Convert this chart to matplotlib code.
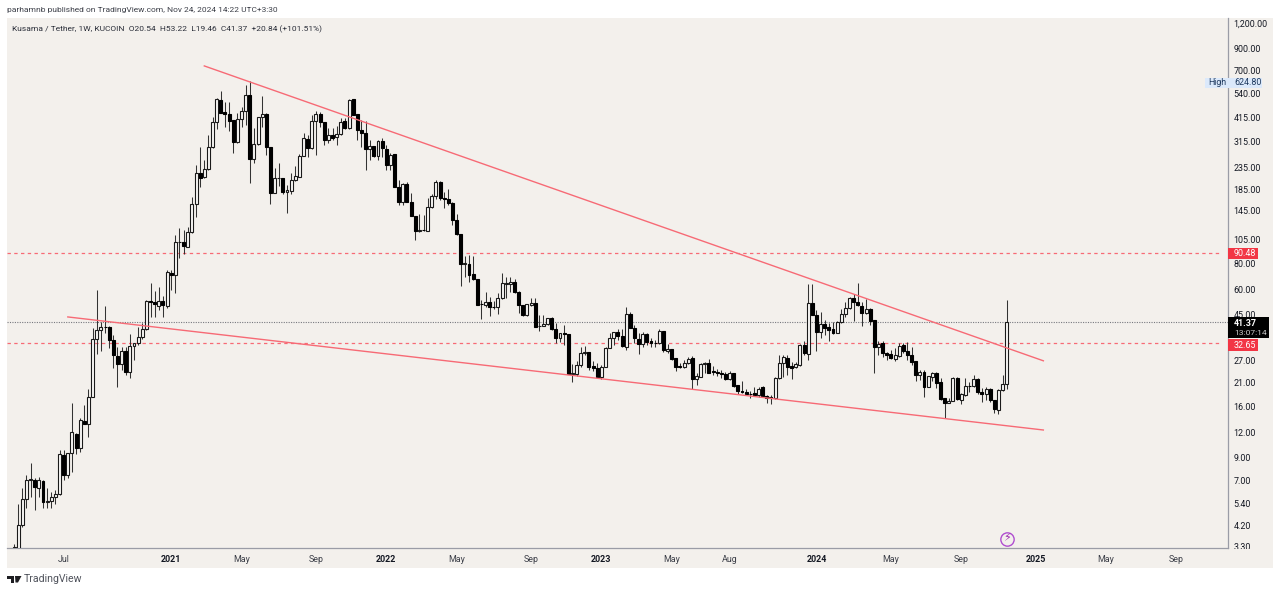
import matplotlib
matplotlib.use("Agg")
import matplotlib.pyplot as plt
import matplotlib.dates as mdates
import numpy as np
import pandas as pd
from matplotlib.lines import Line2D
from matplotlib.patches import Rectangle, Polygon

# weekly candles, first one is the week of 2020-04-13
first_week = "2020-04-13"

opens = [3.1, 3.05, 4.2, 5.67, 7.02, 7.02, 6.42, 6.94, 5.49, 5.52, 5.8, 6.0, 9.3, 7.43, 9.51, 11.8, 10.1, 13.6, 13.2, 17.9,
         34.3, 38, 39.3, 39.2, 33.9, 28.3, 25.9, 30, 23.7, 31.7, 32.8, 35.1, 38.4, 52.6, 52, 49.7, 52.6, 49.7, 72.1, 70.5,
         102, 102, 96, 114.5, 157, 222, 212, 232, 297, 394, 505, 441, 431, 403, 315, 407, 446, 534, 260, 308,
         417, 431, 297, 177, 210, 210, 179, 181, 205, 212, 269, 325, 294, 398, 431, 394, 322, 340, 333, 344,
         398, 368, 510, 431, 360, 348, 291, 301, 269, 318, 291, 243, 275, 189, 160, 196, 160, 137, 116, 117,
         116, 151, 171, 200, 167, 166, 158, 131, 112, 79.7, 79.7, 71.3, 67.4, 50.8, 50.3, 52, 49.2, 48.9, 54.4, 63.7,
         63.7, 65.1, 58.2, 50.3, 44.9, 50.3, 51.4, 39.7, 39.8, 40.6, 43.4, 38.4, 34.7, 36.7, 36.3, 23.1, 23.2, 25.6, 29.3, 29.6,
         25.3, 24.8, 22.4, 25, 31, 34.7, 37.1, 35.5, 31.4, 45.4, 38.8, 34.3, 32.4, 36.3, 33.5, 32.8, 32.6, 37.6, 30, 30.7,
         27.7, 25.3, 25, 26.2, 27.7, 21.9, 22.4, 25.9, 26.2, 23.9, 23.7, 23.4, 23.1, 21.9, 23.4, 20.4, 19.1, 18.9, 18.5, 18.7,
         18.3, 20, 18.1, 17.9, 17.7, 22.1, 26.2, 27.7, 25.3, 25, 25.6, 32.1, 29, 51.4, 44.9, 37.1, 40.6, 39.3, 38.4, 36.7,
         41.5, 45.4, 48.6, 54.4, 52, 49.7, 45.9, 48.1, 42.5, 31.4, 32.8, 29.3, 29, 27.4, 28.3, 32.1, 30, 28.7, 26.8, 22.9,
         23.7, 20, 22.4, 23.4, 21.1, 17.7, 16.7, 17.1, 22.1, 17.3, 18.3, 20.2, 20.1, 21.9, 18.9, 18.5, 19.5, 17.3, 15.4, 19.3,
         20.54]
highs = [3.4, 5.36, 6.42, 7.43, 8.5, 7.18, 7.26, 7.02, 6.42, 6.13, 6.27, 9.84, 9.84, 9.51, 16.7, 11.9, 14.1, 16.3, 19.5, 38.8,
         59.5, 41.5, 49.7, 39.5, 35.9, 31.4, 31.4, 31.4, 36.3, 32.9, 39.3, 41.1, 53.2, 64.4, 58.8, 61.5, 55.6, 74.6, 74.6, 110,
         119.6, 117, 121, 169, 243, 297, 257, 340, 417, 516, 558, 493, 493, 403, 436, 466, 597, 624.8, 368, 417,
         528, 436, 297, 235, 248, 210, 194, 222, 240, 275, 348, 340, 426, 446, 441, 394, 368, 368, 377, 412,
         412, 510, 510, 431, 403, 398, 322, 301, 322, 329, 304, 278, 275, 205, 198, 200, 177, 137, 140, 138,
         167, 175, 205, 203, 179, 185, 160, 140, 112, 87.2, 88.2, 87.2, 67.4, 53.2, 58.2, 55, 52.6, 57.5, 72.1, 68.9,
         68.9, 67.4, 58.8, 50.3, 50.8, 54.4, 54.4, 44.9, 44.9, 43.4, 43.9, 41.1, 36.7, 40.2, 36.3, 25.9, 26.8, 31.4, 31.7, 29.6,
         26.8, 26.2, 25.6, 31.4, 36.7, 37.1, 38.4, 38.4, 49.2, 46.5, 40.2, 36.7, 37.1, 36.7, 34.7, 33.9, 38.4, 37.6, 32.4, 30.7,
         27.7, 26.2, 27.1, 28, 28.3, 23.4, 26.2, 26.5, 27.4, 25.3, 24.5, 24.2, 23.7, 23.9, 23.4, 20.4, 21.4, 19.5, 19.1, 20,
         20, 20.2, 18.3, 18.3, 22.4, 28.7, 28.7, 28.7, 26.5, 26.5, 32.4, 33.5, 63.7, 63.7, 47.5, 46.5, 42.5, 41.1, 41.5, 42,
         48.1, 52, 55, 56.9, 64.4, 52, 53.8, 48.6, 42.5, 33.5, 33.5, 29.6, 30.3, 31, 32.8, 32.8, 33.2, 31.4, 26.8, 24.2,
         24.2, 22.6, 23.7, 23.7, 22.1, 17.7, 17.7, 22.4, 22.4, 18.7, 22.1, 21.1, 22.9, 22.1, 19.8, 20, 19.8, 17.3, 19.5, 22.9,
         53.22]
lows = [3.0, 3.0, 4.15, 5.13, 5.8, 5.01, 5.8, 5.13, 5.13, 5.13, 5.36, 5.93, 7.02, 7.18, 7.68, 9.41, 9.62, 13.1, 11.4, 17.8,
        29, 30, 36.7, 31, 24.8, 20, 24.2, 22.9, 22.1, 27.1, 32.1, 34.3, 38, 43.9, 43.9, 47.5, 43.9, 48.6, 59.5, 57.5,
        85.3, 89.3, 96, 113, 135, 189, 210, 230, 294, 364, 436, 372, 356, 278, 311, 372, 381, 198, 248, 304,
        372, 272, 157, 177, 192, 175, 142, 175, 203, 212, 269, 266, 291, 272, 372, 304, 311, 322, 304, 340,
        364, 364, 426, 322, 297, 230, 257, 266, 257, 266, 230, 230, 189, 155, 155, 160, 137, 104.5, 114.5, 116,
        116, 150, 165.6, 164, 150, 155, 124, 111, 62.2, 68.9, 65.1, 66.6, 50.3, 42.9, 49.2, 44.4, 48.1, 45.4, 53.8, 54.4,
        58.2, 57.5, 46, 44.4, 44.4, 49.7, 39.3, 37.6, 40.2, 40.2, 38, 32.8, 33.2, 32.1, 23.1, 21.1, 22.6, 25, 28.7, 24.2,
        23.9, 22.4, 21.9, 25, 31, 32.1, 33.9, 31.4, 30.3, 38.8, 32.8, 29, 31.4, 32.1, 31.4, 31.4, 32.4, 29.6, 29.3, 27.1,
        23.9, 24.8, 24.8, 25.9, 19.5, 20.4, 22.4, 23.4, 23.4, 22.9, 22.6, 22.1, 21.6, 21.6, 20, 18.5, 18.7, 18.3, 17.7, 18.1,
        17.9, 17.9, 16.7, 16.5, 17.5, 21.9, 22.4, 22.9, 21.9, 24.8, 25.3, 28.7, 27.1, 44.9, 30, 34.7, 35.9, 33.5, 36.3, 36.7,
        41.1, 43.9, 48.1, 42, 49.7, 39.7, 45.4, 40.2, 23.4, 28.7, 28, 27.1, 27.4, 26.8, 28, 29.3, 27.1, 25.6, 21.4, 21.6,
        17.9, 20, 21.4, 19.8, 17.3, 14.1, 16.7, 17.1, 17.3, 16.5, 18.1, 18.9, 20, 18.5, 16.9, 17.3, 16.9, 14.9, 14.8, 19.1,
        19.46]
closes = [3.3, 4.2, 5.67, 7.02, 7.1, 6.49, 7.02, 5.49, 5.52, 5.8, 6.0, 9.41, 7.43, 9.51, 12.05, 10.1, 13.8, 13.2, 17.9, 34.3,
          38, 39.3, 39.2, 33.9, 28.7, 25.9, 30, 23.7, 31.7, 32.8, 35.1, 38.4, 52.6, 52, 50.8, 52.6, 50.3, 72.9, 70.5, 102,
          102, 97, 114.5, 157, 222, 210, 232, 297, 394, 510, 436, 431, 398, 315, 407, 446, 534, 260, 308, 417,
          431, 297, 177, 210, 210, 179, 183, 205, 214, 269, 329, 294, 398, 431, 394, 322, 340, 329, 344, 394,
          368, 505, 426, 360, 348, 291, 301, 269, 318, 294, 243, 272, 189, 160, 196, 160, 137, 116, 117, 116.5,
          151, 171, 200, 167, 166, 158, 131, 112, 79.7, 80.2, 70.5, 67.4, 50.3, 50.5, 52, 49.2, 48.9, 54.4, 64.4, 64.4,
          65.1, 58.2, 50.3, 44.9, 50.8, 51.4, 39.3, 39.8, 40.6, 43.4, 38.4, 34.7, 36.7, 36.3, 23.1, 23.4, 25.6, 29.3, 29.6, 25,
          24.8, 22.4, 25, 31, 34.7, 37.1, 35.5, 31.7, 45.4, 38.8, 34.7, 32.4, 36.3, 33.2, 32.8, 32.6, 37.6, 30.3, 30.7, 27.4,
          25, 25, 26.2, 27.4, 21.9, 22.6, 25.9, 26.2, 23.4, 23.7, 23.4, 23.1, 21.9, 23.4, 20.2, 19.1, 18.9, 18.5, 18.4, 18.3,
          19.5, 18.1, 17.7, 17.7, 22.1, 26.2, 28, 25, 24.8, 25.9, 32.1, 29.3, 51.4, 44.9, 37.1, 40.6, 38.8, 38, 36.7, 41.5,
          45.4, 48.6, 54.4, 52, 50.3, 45.9, 48.1, 42, 31.4, 32.4, 29.3, 28.7, 27.7, 28.7, 31.7, 30, 28.7, 26.5, 22.9, 23.7,
          20, 22.6, 23.4, 20.9, 17.5, 16.7, 17.1, 22.1, 17.5, 18.5, 20.2, 20.1, 21.9, 18.9, 18.5, 19.5, 17.3, 15.6, 19.3, 20.54,
          41.37]

price_ticks = [1200, 900, 700, 540, 415, 315, 235, 185, 145, 105, 80, 60, 45, 27, 21, 16, 12, 9, 7, 5.4, 4.2, 3.3]
price_labels = ["1,200.00", "900.00", "700.00", "540.00", "415.00", "315.00", "235.00", "185.00", "145.00", "105.00", "80.00",
                "60.00", "45.00", "27.00", "21.00", "16.00", "12.00", "9.00", "7.00", "5.40", "4.20", "3.30"]
date_ticks = ["2020-07-06", "2021-01-04", "2021-05-03", "2021-09-06", "2022-01-03", "2022-05-02", "2022-09-05", "2023-01-02",
              "2023-05-01", "2023-08-07", "2024-01-01", "2024-05-06", "2024-09-02", "2025-01-06", "2025-05-05", "2025-09-01"]
date_labels = ["Jul", "2021", "May", "Sep", "2022", "May", "Sep", "2023", "May", "Aug", "2024", "May", "Sep", "2025", "May", "Sep"]
bold_labels = ["2021", "2022", "2023", "2024", "2025"]

levels = [90.48, 32.65]
last_close = 41.37
upper_dates = ["2021-03-01", "2025-01-19"]
upper_prices = [740, 26.8]
lower_dates = ["2020-07-13", "2025-01-19"]
lower_prices = [43.9, 12.3]

W, H = 1280, 592
BG = "#f3f0ec"
RED = "#f76a75"
INK = "#131722"
AXIS = "#9a9ca6"
TXT = 6.4

plt.rcParams["font.family"] = ["Roboto", "DejaVu Sans"]
fig = plt.figure(figsize=(W / 100, H / 100), dpi=100, facecolor="white")


def box(x0, y0, x1, y1, color, z=5):
    # rectangle in picture pixels, y going down
    fig.add_artist(Rectangle((x0 / W, 1 - y1 / H), (x1 - x0) / W, (y1 - y0) / H, transform=fig.transFigure,
                             facecolor=color, edgecolor="none", zorder=z))


def label(x, y, s, size=TXT, color=INK, ha="left", weight="normal", z=6):
    fig.text(x / W, 1 - y / H, s, fontsize=size, color=color, ha=ha, va="center", fontweight=weight, zorder=z)


def shape(points, color):
    pts = [(x / W, 1 - y / H) for x, y in points]
    fig.add_artist(Polygon(pts, closed=True, transform=fig.transFigure, facecolor=color, edgecolor="none", zorder=6))


box(7, 18, 1273, 568, BG, z=-1)
ax = fig.add_axes([7 / W, 1 - 548 / H, (1228 - 7) / W, (548 - 18) / H])
ax.patch.set_alpha(0)
ax.set_yscale("log")
ax.set_ylim(3.26, 1269)
start = mdates.date2num(pd.Timestamp(first_week))
ax.set_xlim(start - 11.9, start + 2054.5)

weeks = pd.date_range(first_week, periods=len(opens), freq="7D")
t = mdates.date2num(weeks)
o, h, l, c = map(np.array, (opens, highs, lows, closes))
up = c >= o

ax.vlines(t, l, h, color="#333333", lw=0.75, zorder=2)
ax.bar(t[up], c[up] - o[up], bottom=o[up], width=5.0, facecolor="#fbfaf8", edgecolor="#1a1a1a", lw=0.8, zorder=3)
ax.bar(t[~up], o[~up] - c[~up], bottom=c[~up], width=5.0, facecolor="black", edgecolor="black", lw=0.8, zorder=3)

for lv in levels:
    ax.plot([ax.get_xlim()[0], start + 2040], [lv, lv], color=RED, lw=0.9, ls=(0, (2.7, 2.7)), zorder=1)
ax.axhline(last_close, color="#77797f", lw=0.8, ls=(0, (1, 1.2)), zorder=1)
ax.plot(pd.to_datetime(upper_dates), upper_prices, color=RED, lw=1.0, zorder=4)
ax.plot(pd.to_datetime(lower_dates), lower_prices, color=RED, lw=1.0, zorder=4)

for s in ("top", "left"):
    ax.spines[s].set_visible(False)
for s in ("right", "bottom"):
    ax.spines[s].set_color(AXIS)
    ax.spines[s].set_linewidth(0.9)

ax.yaxis.tick_right()
ax.set_yticks(price_ticks)
ax.set_yticklabels(price_labels, fontsize=TXT, color=INK)
ax.minorticks_off()
ax.tick_params(axis="y", length=0, pad=4)
ax.set_xticks(mdates.date2num(pd.to_datetime(date_ticks)))
ax.set_xticklabels(date_labels, fontsize=TXT, color="#3c3f48")
for tl in ax.get_xticklabels():
    if tl.get_text() in bold_labels:
        tl.set_fontweight("bold")
        tl.set_color(INK)
ax.tick_params(axis="x", length=0, pad=5)

# axis strip hides the lower half of the 3.30 label, as the original does
box(1229, 548.6, 1273, 568, BG, z=1)

# price tags
box(1205, 78, 1262, 87.5, "#dbe9fb")
label(1208, 82.5, "High", color="#1f3a5f")
label(1234, 82.5, "624.80", color="#1f3a5f")
box(1228, 248, 1258, 259, "#f23645")
label(1234, 253.5, "90.48", color="white")
box(1228, 339, 1258, 351, "#f23645")
label(1234, 345, "32.65", color="white")
box(1228, 317, 1269, 338, "black")
label(1234, 323, "41.37", color="white", weight="bold")
label(1234, 333, "13:07:14", size=6.1, color="#c8c8c8")

# header and footer
label(7, 10, "parhamnb published on TradingView.com, Nov 24, 2024 14:22 UTC+3:30", color="#3c3f48", size=6.0)
label(12, 29, "Kusama / Tether, 1W, KUCOIN  O20.54  H53.22  L19.46  C41.37  +20.84 (+101.51%)", color="#2a2e39", size=6.0)
label(24, 579.5, "TradingView", color="#50535c", size=7.6)
shape([(7, 576), (14, 576), (14, 582.5), (10.5, 582.5), (10.5, 578.5), (7, 578.5)], "#1e1e22")
shape([(15, 576), (21.5, 576), (18, 582.5), (15.5, 582.5)], "#1e1e22")

# purple marker on the time axis
fig.add_artist(Line2D([1006.5 / W], [1 - 538.5 / H], marker="o", ms=9.6, mfc="none", mec="#b04fd0", mew=1.0,
                      transform=fig.transFigure, zorder=6))
label(1006.5, 538.5, "\u26a1", size=8, color="#9c27b0", ha="center")

fig.savefig("out.png", dpi=100, facecolor="white")
